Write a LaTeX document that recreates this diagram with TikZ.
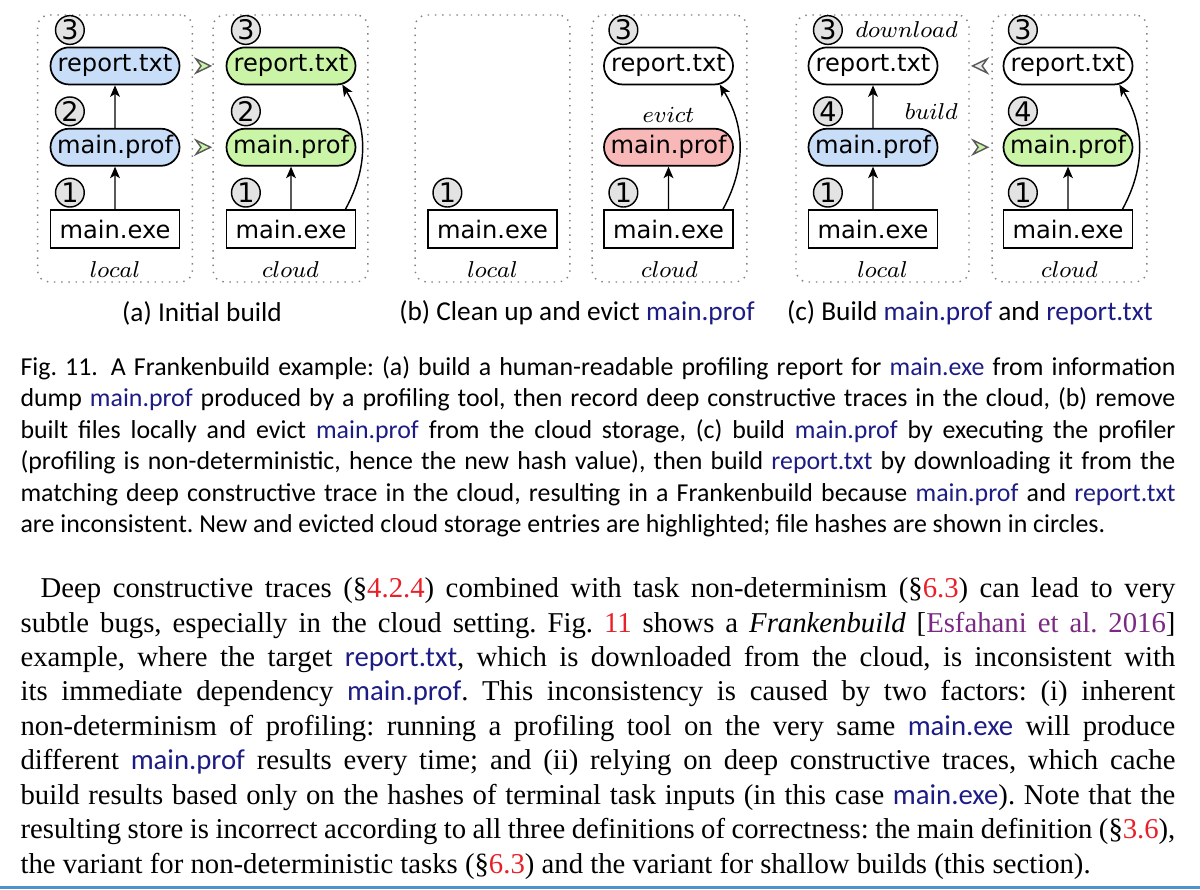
\documentclass[tikz,border=0pt]{standalone}
\usepackage{fontspec}
\setmainfont{Liberation Serif}
\newfontfamily\capfont{Carlito}
\newfontfamily\figfont{DejaVu Sans}
\usepackage{tikz}
\usetikzlibrary{positioning,arrows.meta,shapes.misc,calc}
\usepackage{xcolor}
\definecolor{linkblue}{HTML}{1C1C84}
\definecolor{refred}{HTML}{E8202A}
\definecolor{citepurple}{HTML}{7A2A82}
\definecolor{rulecol}{HTML}{4A96C8}
\definecolor{newblue}{HTML}{C8DEF8}
\definecolor{newgreen}{HTML}{CAF4A6}
\definecolor{evictred}{HTML}{F8B8B8}
\newcommand{\fname}[1]{{\capfont\textcolor{linkblue}{#1}}}
\newcommand{\secref}[1]{\textcolor{refred}{#1}}
\frenchspacing

\begin{document}
\begin{tikzpicture}[
        x=0.348pt, y=-0.348pt,
        fnode/.style={rounded rectangle, draw, line width=0.6pt, minimum width=44.9pt, minimum height=12.9pt, inner sep=0pt, font=\figfont\fontsize{8.4}{9}\selectfont},
        exenode/.style={fnode, rectangle, minimum height=13.2pt},
        hashmark/.style={circle, draw, line width=0.5pt, fill=gray!22, minimum size=10pt, inner sep=0pt, font=\figfont\fontsize{9.4}{10}\selectfont},
        storebox/.style={draw=gray, dotted, line width=0.5pt, rounded corners=4pt, minimum width=53.9pt, minimum height=92.9pt},
        placelbl/.style={inner sep=0pt, font=\fontsize{8.4}{10}\selectfont},
        dep/.style={-{Stealth[length=4pt, width=3.4pt, inset=1pt]}, line width=0.5pt},
        pics/tiphead/.style={code={
            \filldraw[draw=black!65, fill=#1, line width=0.5pt] (-7,-7) -- (7.5,0) -- (-7,7) -- (-2,0) -- cycle;
        }},
        subcap/.style={inner sep=0pt, font=\capfont\fontsize{9.5}{11}\selectfont},
        para/.style={inner sep=0pt, align=left, anchor=north west}
    ]
        \useasboundingbox (0,0) rectangle (1200,890);

        % storage boxes
        \node[storebox] (a-l-box) at (115,148.5) {};
        \node[storebox] (a-c-box) at (290.5,148.5) {};
        \node[storebox] (b-l-box) at (492.5,148.5) {};
        \node[storebox] (b-c-box) at (669.5,148.5) {};
        \node[storebox, minimum width=60.2pt] (c-l-box) at (882.5,148.5) {};
        \node[storebox] (c-c-box) at (1069.5,148.5) {};

        % (a) initial build
        \node[exenode] (a-l-exe) at (115,229) {main.exe};
        \node[fnode, fill=newblue, above=14.8pt of a-l-exe] (a-l-prof) {main.prof};
        \node[fnode, fill=newblue, above=14.8pt of a-l-prof] (a-l-rep) {report.txt};
        \node[hashmark, above=0.5pt of a-l-exe.north, xshift=-15.7pt] (a-l-h1) {1};
        \node[hashmark, above=0.5pt of a-l-prof.north, xshift=-15.7pt] (a-l-h2) {2};
        \node[hashmark, above=0.5pt of a-l-rep.north, xshift=-15.7pt] (a-l-h3) {3};
        \draw[dep] (a-l-exe) -- (a-l-prof);
        \draw[dep] (a-l-prof) -- (a-l-rep);

        \node[exenode] (a-c-exe) at (291,229) {main.exe};
        \node[fnode, fill=newgreen, above=14.8pt of a-c-exe] (a-c-prof) {main.prof};
        \node[fnode, fill=newgreen, above=14.8pt of a-c-prof] (a-c-rep) {report.txt};
        \node[hashmark, above=0.5pt of a-c-exe.north, xshift=-15.7pt] (a-c-h1) {1};
        \node[hashmark, above=0.5pt of a-c-prof.north, xshift=-15.7pt] (a-c-h2) {2};
        \node[hashmark, above=0.5pt of a-c-rep.north, xshift=-15.7pt] (a-c-h3) {3};
        \draw[dep] (a-c-exe) -- (a-c-prof);
        \draw[dep] (a-c-exe.20) to[bend right=30] (a-c-rep.-20);

        \pic at ($(a-l-rep.east)!0.5!(a-c-rep.west)$) {tiphead=newgreen};
        \pic at ($(a-l-prof.east)!0.5!(a-c-prof.west)$) {tiphead=newgreen};

        \node[placelbl, above=1.5pt of a-l-box.south] (a-l-where) {$local$};
        \node[placelbl, above=1.5pt of a-c-box.south] (a-c-where) {$cloud$};

        % (b) clean up and evict
        \node[exenode] (b-l-exe) at (492.5,229) {main.exe};
        \node[hashmark, above=0.5pt of b-l-exe.north, xshift=-15.7pt] (b-l-h1) {1};

        \node[exenode] (b-c-exe) at (668.5,229) {main.exe};
        \node[fnode, fill=evictred, above=14.8pt of b-c-exe] (b-c-prof) {main.prof};
        \node[fnode, above=14.8pt of b-c-prof] (b-c-rep) {report.txt};
        \node[hashmark, above=0.5pt of b-c-exe.north, xshift=-15.7pt] (b-c-h1) {1};
        \node[hashmark, above=0.5pt of b-c-rep.north, xshift=-15.7pt] (b-c-h3) {3};
        \node[placelbl, above=1.8pt of b-c-prof] (b-c-evict) {$evict$};
        \draw[dep] (b-c-exe) -- (b-c-prof);
        \draw[dep] (b-c-exe.20) to[bend right=30] (b-c-rep.-20);

        \node[placelbl, above=1.5pt of b-l-box.south] (b-l-where) {$local$};
        \node[placelbl, above=1.5pt of b-c-box.south] (b-c-where) {$cloud$};

        % (c) build main.prof and report.txt
        \node[exenode] (c-l-exe) at (873,229) {main.exe};
        \node[fnode, fill=newblue, above=14.8pt of c-l-exe] (c-l-prof) {main.prof};
        \node[fnode, above=14.8pt of c-l-prof] (c-l-rep) {report.txt};
        \node[hashmark, above=0.5pt of c-l-exe.north, xshift=-15.7pt] (c-l-h1) {1};
        \node[hashmark, above=0.5pt of c-l-prof.north, xshift=-15.7pt] (c-l-h4) {4};
        \node[hashmark, above=0.5pt of c-l-rep.north, xshift=-15.7pt] (c-l-h3) {3};
        \node[placelbl, right=4.2pt of c-l-h3] (c-l-down) {$download$};
        \node[placelbl, anchor=east] (c-l-build) at (c-l-down.east |- c-l-h4) {$build$};
        \draw[dep] (c-l-exe) -- (c-l-prof);
        \draw[dep] (c-l-prof) -- (c-l-rep);

        \node[exenode] (c-c-exe) at (1068,229) {main.exe};
        \node[fnode, fill=newgreen, above=14.8pt of c-c-exe] (c-c-prof) {main.prof};
        \node[fnode, above=14.8pt of c-c-prof] (c-c-rep) {report.txt};
        \node[hashmark, above=0.5pt of c-c-exe.north, xshift=-15.7pt] (c-c-h1) {1};
        \node[hashmark, above=0.5pt of c-c-prof.north, xshift=-15.7pt] (c-c-h4) {4};
        \node[hashmark, above=0.5pt of c-c-rep.north, xshift=-15.7pt] (c-c-h3) {3};
        \draw[dep] (c-c-exe) -- (c-c-prof);
        \draw[dep] (c-c-exe.20) to[bend right=30] (c-c-rep.-20);

        \pic[rotate=180] at ($(c-l-rep.east)!0.65!(c-c-rep.west)$) {tiphead=gray!15};
        \pic at ($(c-l-prof.east)!0.65!(c-c-prof.west)$) {tiphead=newgreen};

        \node[placelbl, above=1.5pt of c-l-box.south] (c-l-where) {$local$};
        \node[placelbl, above=1.5pt of c-c-box.south] (c-c-where) {$cloud$};

        % sub-captions
        \node[subcap] (cap-a) at (202,313) {(a) Initial build};
        \node[subcap] (cap-b) at (577,313) {(b) Clean up and evict \fname{main.prof}};
        \node[subcap] (cap-c) at (970,313) {(c) Build \fname{main.prof} and \fname{report.txt}};

        % caption
        \node[para, font=\capfont\fontsize{9}{10.96}\selectfont] (caption) at (20,356) {%
            \makebox[401.9pt][s]{Fig. 11.\enskip A Frankenbuild example: (a) build a human-readable profiling report for \fname{main.exe} from information}\\
            \makebox[401.9pt][s]{dump \fname{main.prof} produced by a profiling tool, then record deep constructive traces in the cloud, (b) remove}\\
            \makebox[401.9pt][s]{built files locally and evict \fname{main.prof} from the cloud storage, (c) build \fname{main.prof} by executing the profiler}\\
            \makebox[401.9pt][s]{(profiling is non-deterministic, hence the new hash value), then build \fname{report.txt} by downloading it from the}\\
            \makebox[401.9pt][s]{matching deep constructive trace in the cloud, resulting in a Frankenbuild because \fname{main.prof} and \fname{report.txt}}\\
            are inconsistent. New and evicted cloud storage entries are highlighted; file hashes are shown in circles.};

        % body text
        \node[para, font=\fontsize{10}{12}\selectfont] (body) at (20,577) {%
            \makebox[401.9pt][s]{\hspace*{7pt}Deep constructive traces (\S\secref{4.2.4}) combined with task non-determinism (\S\secref{6.3}) can lead to very}\\
            \makebox[401.9pt][s]{subtle bugs, especially in the cloud setting. Fig.~\secref{11} shows a \emph{Frankenbuild} [\textcolor{citepurple}{Esfahani et al. 2016}]}\\
            \makebox[401.9pt][s]{example, where the target \fname{report.txt}, which is downloaded from the cloud, is inconsistent with}\\
            \makebox[401.9pt][s]{its immediate dependency \fname{main.prof}. This inconsistency is caused by two factors: (i) inherent}\\
            \makebox[401.9pt][s]{non-determinism of profiling: running a profiling tool on the very same \fname{main.exe} will produce}\\
            \makebox[401.9pt][s]{different \fname{main.prof} results every time; and (ii) relying on deep constructive traces, which cache}\\
            \makebox[401.9pt][s]{build results based only on the hashes of terminal task inputs (in this case \fname{main.exe}). Note that the}\\
            \makebox[401.9pt][s]{resulting store is incorrect according to all three definitions of correctness: the main definition (\S\secref{3.6}),}\\
            the variant for non-deterministic tasks (\S\secref{6.3}) and the variant for shallow builds (this section).};

        \draw[rulecol, line width=0.8pt] (0,887.5) -- (1200,887.5);
    \end{tikzpicture}
\end{document}
